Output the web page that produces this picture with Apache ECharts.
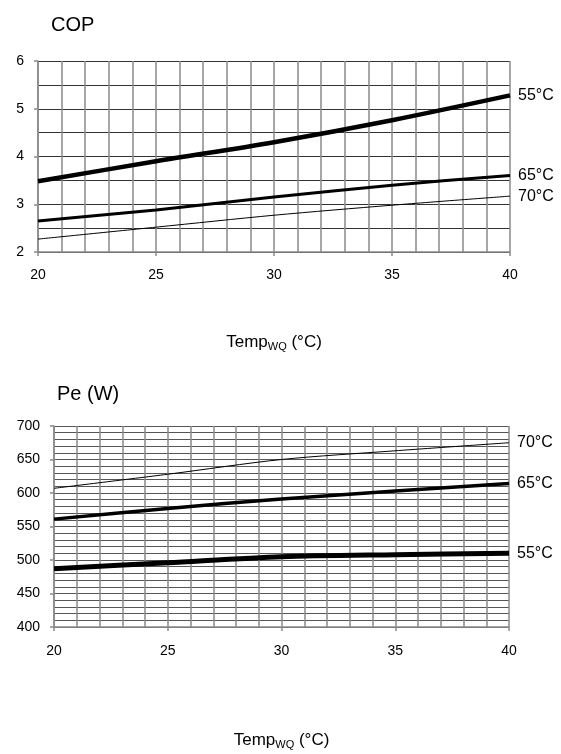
<!DOCTYPE html>
<html>
<head>
<meta charset="utf-8">
<script src="https://cdn.jsdelivr.net/npm/echarts@6/dist/echarts.min.js"></script>
<style>
html,body{margin:0;padding:0;background:#fff;}
#c{width:561px;height:754px;}
</style>
</head>
<body>
<div id="c"></div>
<script>
// ---- data ----
const temps = [20, 25, 30, 35, 40];
const seriesNames = ['55°C', '65°C', '70°C'];
const cop55 = [3.48, 3.90, 4.30, 4.76, 5.28];
const cop65 = [2.65, 2.88, 3.15, 3.40, 3.60];
const cop70 = [2.27, 2.52, 2.77, 2.98, 3.17];
const pe55 = [487, 496, 505, 508, 510];
const pe65 = [561, 577, 591, 603, 614];
const pe70 = [607, 628, 650, 663, 675];
const copTicks = [2, 3, 4, 5, 6];
const peTicks = [400, 450, 500, 550, 600, 650, 700];
const xTicks = [20, 25, 30, 35, 40];

const FONT = '"Liberation Sans", Arial, sans-serif';
const chart = echarts.init(document.getElementById('c'));

function pairs(vals) { return temps.map((t, i) => [t, vals[i]]); }

const axisName = '{a|Temp}{s|WQ}{a| (°C)}';
const nameRich = {
  a: { fontSize: 17, fontFamily: FONT, color: '#000', lineHeight: 20 },
  s: { fontSize: 11, fontFamily: FONT, color: '#000', lineHeight: 8, verticalAlign: 'bottom' }
};

function xAxis(gridIndex, gap, margin) {
  return {
    type: 'value', gridIndex, min: xTicks[0], max: xTicks[xTicks.length - 1], interval: 5,
    name: axisName, nameLocation: 'middle', nameGap: gap,
    nameTextStyle: { rich: nameRich },
    axisLine: { show: true, lineStyle: { color: '#8a8a8a', width: 1.5 } },
    axisTick: { show: true, length: 4, lineStyle: { color: '#8a8a8a', width: 1.5 } },
    axisLabel: { fontSize: 14, fontFamily: FONT, color: '#000', margin },
    splitLine: { show: true, lineStyle: { color: '#8a8a8a', width: 1.5 } },
    minorTick: { show: false, splitNumber: 5 },
    minorSplitLine: { show: true, lineStyle: { color: '#8a8a8a', width: 1.5 } }
  };
}
function yAxis(gridIndex, ticks, interval, minorN, hColor) {
  return {
    type: 'value', gridIndex, min: ticks[0], max: ticks[ticks.length - 1], interval,
    axisLine: { show: true, lineStyle: { color: '#8a8a8a', width: 1.5 } },
    axisTick: { show: true, length: 4, lineStyle: { color: '#8a8a8a', width: 1.5 } },
    axisLabel: { fontSize: 14, fontFamily: FONT, color: '#000', margin: 14 },
    splitLine: { show: true, lineStyle: { color: hColor, width: 1 } },
    minorTick: { show: false, splitNumber: minorN },
    minorSplitLine: { show: true, lineStyle: { color: hColor, width: 1 } }
  };
}
function line(name, vals, idx, width) {
  return {
    type: 'line', name, xAxisIndex: idx, yAxisIndex: idx,
    data: pairs(vals), smooth: 0.3, symbol: 'none',
    lineStyle: { color: '#000', width },
    endLabel: { show: true, formatter: name, fontSize: 16, fontFamily: FONT, color: '#000', distance: 8 },
    z: 5
  };
}

chart.setOption({
  animation: false,
  backgroundColor: '#fff',
  title: [
    { text: 'COP', left: 46, top: 10, textStyle: { fontSize: 20, fontWeight: 'normal', fontFamily: FONT, color: '#000' } },
    { text: 'Pe (W)', left: 52, top: 379, textStyle: { fontSize: 20, fontWeight: 'normal', fontFamily: FONT, color: '#000' } }
  ],
  grid: [
    { left: 38, top: 61, width: 472, height: 191, containLabel: false },
    { left: 54, top: 426, width: 455, height: 201, containLabel: false }
  ],
  xAxis: [xAxis(0, 80, 16), xAxis(1, 103, 17)],
  yAxis: [yAxis(0, copTicks, 1, 2, '#333'), yAxis(1, peTicks, 50, 5, '#555')],
  series: [
    line(seriesNames[0], cop55, 0, 4.5),
    line(seriesNames[1], cop65, 0, 3),
    line(seriesNames[2], cop70, 0, 1),
    line(seriesNames[0], pe55, 1, 5),
    line(seriesNames[1], pe65, 1, 3.5),
    line(seriesNames[2], pe70, 1, 1)
  ]
});
</script>
</body>
</html>
